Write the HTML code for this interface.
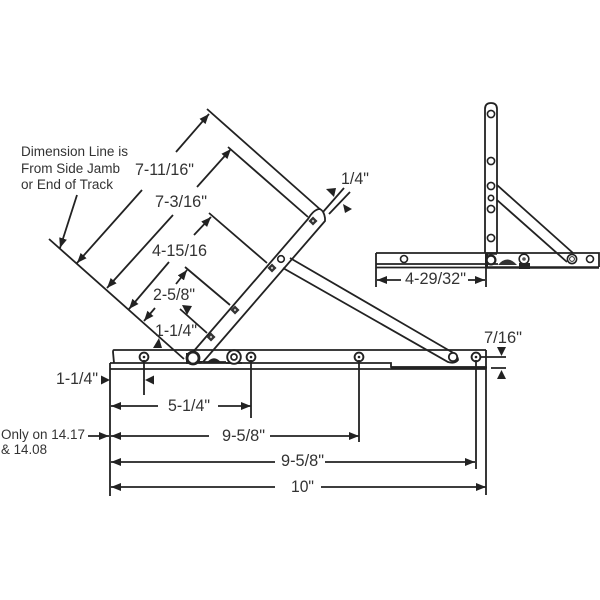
<!DOCTYPE html>
<html><head><meta charset="utf-8"><style>
html,body{margin:0;padding:0;background:#fff}
svg{display:block}
text{font-family:"Liberation Sans",sans-serif;fill:#333;font-size:16.5px}
.s{font-size:13.5px}
.l{stroke:#222;stroke-width:1.8;fill:none}
.a{stroke:#222;stroke-width:1.8;fill:none;marker-end:url(#ah)}
.h{fill:#222;stroke:none}
</style></head><body>
<svg width="600" height="600" viewBox="0 0 600 600" xmlns="http://www.w3.org/2000/svg">
<defs>
<marker id="ah" markerUnits="userSpaceOnUse" markerWidth="12" markerHeight="10" refX="10" refY="4" orient="auto"><path d="M0 0L10 4L0 8Z" fill="#222"/></marker>
<g id="dia"><rect x="-3.2" y="-3.2" width="6.4" height="6.4" fill="#333" transform="rotate(45)"/><circle r="1.2" fill="#bbb"/></g>
<g id="scr"><circle r="4.4" fill="#fff" stroke="#222" stroke-width="1.9"/><circle r="1.3" fill="#222"/></g>
</defs>

<!-- main arm extensions -->
<path class="l" d="M49 239L184 359M207 109L322 211M228 147L308 217M209 213L267 263M185 267L230 305M180 309L207 333"/>

<!-- main arm -->
<path d="M193 352L308 217Q316 207 322 211L325 216Q325 220 323 222L203 362Z" fill="#fff"/>
<path class="l" d="M193 352L308 219Q314 209 320 209Q324 211 325 218L325 221L203 362"/>
<use href="#dia" x="313" y="221"/><use href="#dia" x="272" y="268"/><use href="#dia" x="235" y="310"/><use href="#dia" x="211" y="337"/>
<circle cx="281" cy="259" r="3.3" fill="#fff" stroke="#222" stroke-width="1.6"/>

<!-- brace arm -->
<path class="l" d="M290 258L450 351Q458 355 458 360Q455 364 448 362L283 268"/>
<circle cx="453" cy="357" r="4.2" fill="#fff" stroke="#222" stroke-width="1.8"/>

<!-- track -->
<path class="l" d="M486 350H114Q113 350 113 352L114 363"/>
<path class="l" d="M110 363H391V367H486"/>
<path class="l" d="M110 369H486"/>
<path stroke="#222" stroke-width="2.2" d="M391 367.5H487"/>
<path class="l" d="M110 363V496M486 350V495" stroke-width="2"/>

<use href="#scr" x="144" y="357"/><use href="#scr" x="251" y="357"/><use href="#scr" x="359" y="357"/><use href="#scr" x="476" y="357"/>
<path fill="#222" d="M186 353H192V364H186ZM196 361H204L200 364Z"/>
<path class="l" d="M226 363H242"/>
<circle cx="234" cy="357" r="6.8" fill="#fff" stroke="#222" stroke-width="1.9"/><circle cx="234" cy="357" r="3" fill="#fff" stroke="#222" stroke-width="1.7"/>
<circle cx="193" cy="358" r="6" fill="#fff" stroke="#222" stroke-width="2.8"/>
<path fill="#222" d="M206 363.5Q214 353 222 363.5Z"/>
<path class="l" d="M204 362H226"/>

<!-- verticals -->
<path class="l" d="M144 360V395M251 360V418M359 360V442M476 360V469"/>
<path class="l" d="M480 357H506M491 368H506"/>

<!-- horizontal dims -->
<path class="a" d="M158 406H111"/><path class="a" d="M218 406H251"/>
<path class="a" d="M209 436H111"/><path class="a" d="M270 436H359"/>
<path class="a" d="M275 462H111"/><path class="a" d="M325 462H475"/>
<path class="a" d="M275 487H111"/><path class="a" d="M321 487H486"/>
<path class="a" d="M88 436H109"/>
<path class="h" d="M101 375.5L110 380L101 384.5Z"/>
<path class="h" d="M154 375.5L145 380L154 384.5Z"/>
<path class="h" d="M497 347H506L501.5 356Z"/>
<path class="h" d="M497 379H506L501.5 370Z"/>

<!-- diagonal dims -->
<path class="a" d="M176 152L209 114"/><path class="a" d="M142 190L77 263"/>
<path class="a" d="M197 187L231 149"/><path class="a" d="M173 215L107 288"/>
<path class="a" d="M194 235L211 217"/><path class="a" d="M169 262L129 309"/>
<path class="a" d="M176 284L187 270"/><path class="a" d="M155 308L144 321"/>
<path class="h" d="M182 305L192 306L187 315Z"/>
<path class="h" d="M153 348L162 348L159 338Z"/>
<path class="a" d="M77 195L60 248"/>

<!-- 1/4 -->
<path class="l" d="M344 188L323 212M350 192L329 214"/>
<path class="h" d="M326 189L336 188L334 197Z"/>
<path class="h" d="M343 204L352 209L345 213Z"/>

<!-- side view -->
<path class="l" d="M485 253V109Q485 103 491 103Q497 103 497 109V253"/>
<circle cx="491" cy="114" r="3.6" fill="#fff" stroke="#222" stroke-width="1.6"/>
<circle cx="491" cy="161" r="3.6" fill="#fff" stroke="#222" stroke-width="1.6"/>
<circle cx="491" cy="186" r="3.6" fill="#fff" stroke="#222" stroke-width="1.6"/>
<circle cx="491" cy="198" r="2.7" fill="#fff" stroke="#222" stroke-width="1.6"/>
<circle cx="491" cy="209" r="3.6" fill="#fff" stroke="#222" stroke-width="1.6"/>
<circle cx="491" cy="238" r="3.6" fill="#fff" stroke="#222" stroke-width="1.6"/>
<path class="l" d="M497 185L573 253M497 200L567 262"/>
<path class="l" d="M376 253H599V267M376 253V267M376 264H498M376 267.5H498"/>
<path stroke="#222" stroke-width="2.6" d="M486 267.5H599M486 253.5H497"/>
<path fill="#222" d="M485 253H488V267H485ZM519 263H530V269H519Z"/>
<circle cx="491" cy="260" r="4.4" fill="#fff" stroke="#222" stroke-width="2.2"/>
<circle cx="404" cy="259" r="3.5" fill="#fff" stroke="#222" stroke-width="1.6"/>
<circle cx="524" cy="259" r="4.8" fill="#fff" stroke="#222" stroke-width="1.6"/><circle cx="524" cy="259" r="1.8" fill="#555"/>
<circle cx="572" cy="259" r="4.6" fill="#fff" stroke="#222" stroke-width="1.6"/><circle cx="572" cy="259" r="2.4" fill="#fff" stroke="#222" stroke-width="1"/>
<circle cx="590" cy="259" r="3.5" fill="#fff" stroke="#222" stroke-width="1.6"/>
<path fill="#333" d="M498 265Q507 254 517 265Z"/>
<path class="l" d="M376 267V287M486 267V287"/>
<path class="a" d="M401 280H377"/><path class="a" d="M468 280H485"/>

<!-- labels -->
<text class="s" x="21" y="156" textLength="107" lengthAdjust="spacingAndGlyphs">Dimension Line is</text>
<text class="s" x="21" y="173" textLength="99" lengthAdjust="spacingAndGlyphs">From Side Jamb</text>
<text class="s" x="21" y="189" textLength="92" lengthAdjust="spacingAndGlyphs">or End of Track</text>
<text x="135" y="175" textLength="59" lengthAdjust="spacingAndGlyphs">7-11/16"</text>
<text x="155" y="207" textLength="52" lengthAdjust="spacingAndGlyphs">7-3/16"</text>
<text x="152" y="256" textLength="55" lengthAdjust="spacingAndGlyphs">4-15/16</text>
<text x="153" y="300" textLength="42" lengthAdjust="spacingAndGlyphs">2-5/8"</text>
<text x="155" y="336" textLength="42" lengthAdjust="spacingAndGlyphs">1-1/4"</text>
<text x="341" y="184" textLength="28" lengthAdjust="spacingAndGlyphs">1/4"</text>
<text x="484" y="343" textLength="38" lengthAdjust="spacingAndGlyphs">7/16"</text>
<text x="56" y="384" textLength="42" lengthAdjust="spacingAndGlyphs">1-1/4"</text>
<text x="168" y="411" textLength="42" lengthAdjust="spacingAndGlyphs">5-1/4"</text>
<text x="222" y="441" textLength="43" lengthAdjust="spacingAndGlyphs">9-5/8"</text>
<text x="281" y="466" textLength="43" lengthAdjust="spacingAndGlyphs">9-5/8"</text>
<text x="291" y="492" textLength="23" lengthAdjust="spacingAndGlyphs">10"</text>
<text class="s" x="1" y="439" textLength="84" lengthAdjust="spacingAndGlyphs">Only on 14.17</text>
<text class="s" x="1" y="454" textLength="46" lengthAdjust="spacingAndGlyphs">&amp; 14.08</text>
<text x="405" y="284" textLength="61" lengthAdjust="spacingAndGlyphs">4-29/32"</text>
</svg>
</body></html>
